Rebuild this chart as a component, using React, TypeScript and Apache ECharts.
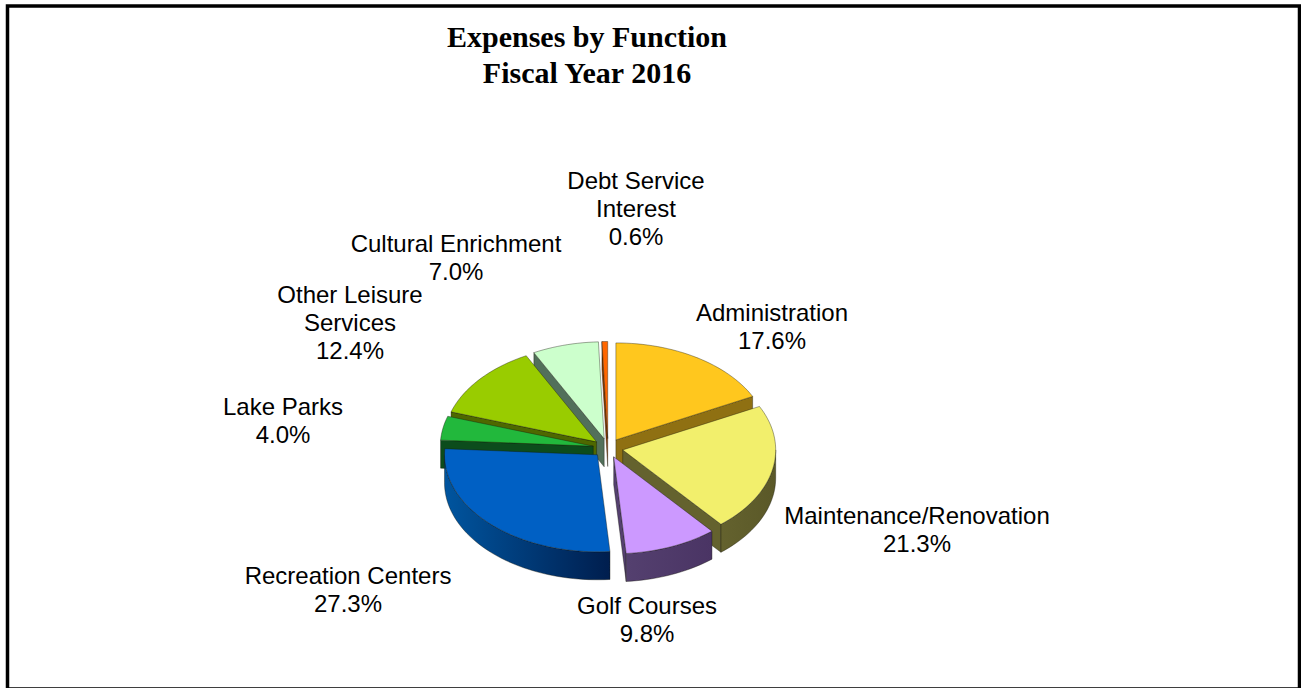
import React, { useEffect, useRef } from "react";
import * as echarts from "echarts";

const names = [
  "Administration",
  "Maintenance/Renovation",
  "Golf Courses",
  "Recreation Centers",
  "Lake Parks",
  "Other Leisure\nServices",
  "Cultural Enrichment",
  "Debt Service\nInterest",
];
const values = [17.6, 21.3, 9.8, 27.3, 4.0, 12.4, 7.0, 0.6];

// styles, same order as the values
const topColors = ["#FFC71E", "#F2EF6C", "#CC99FF", "#0060C4", "#22B83C", "#99CC00", "#CCFFCC", "#FF6600"];
const wallLight = ["#8F7012", "#64622E", "#54406F", "#00559F", "#0C4C1C", "#4E6800", "#52705A", "#8A3A00"];
const wallDark = ["#8F7012", "#5A5828", "#4A3464", "#001E4E", "#0C4C1C", "#4E6800", "#52705A", "#8A3A00"];
const labelCenters = [
  [772, 326],
  [917, 529],
  [647, 619],
  [348, 589],
  [283, 420],
  [350, 322],
  [456, 257],
  [636, 208],
];

const CX = 608;
const CY = 448;
const RX = 153;
const RY = 97;
const DEPTH = 28;
const EXPLODE = 15;
const K = RY / RX;
const DEG = Math.PI / 180;

const total = values.reduce((a, b) => a + b, 0);
const rows = (() => {
  let acc = 0;
  return values.map((v, i) => {
    const a0 = (acc / total) * 360;
    acc += v;
    const a1 = (acc / total) * 360;
    return [i, a0, a1];
  });
})();
// painter's order: back slices first
const drawRows = rows.slice().sort((p, q) => -Math.cos(((p[1] + p[2]) / 2) * DEG) + Math.cos(((q[1] + q[2]) / 2) * DEG));

function renderItem(_params: any, api: any) {
  const i = api.value(0);
  const a0 = api.value(1);
  const a1 = api.value(2);
  const mid = ((a0 + a1) / 2) * DEG;
  const ax = CX + EXPLODE * Math.sin(mid);
  const ay = CY - EXPLODE * K * Math.cos(mid);
  const rim = (deg: number) => [ax + RX * Math.sin(deg * DEG), ay - RY * Math.cos(deg * DEG)];
  const arc = (from: number, to: number) => {
    const n = Math.max(2, Math.ceil((to - from) / 2));
    const pts: number[][] = [];
    for (let k = 0; k <= n; k++) pts.push(rim(from + ((to - from) * k) / n));
    return pts;
  };
  const children: any[] = [];
  const stroke = { stroke: "rgba(20,20,10,0.55)", lineWidth: 0.7 };
  // cut faces
  const face = (deg: number) => {
    const p = rim(deg);
    children.push({
      type: "polygon",
      shape: { points: [[ax, ay], p, [p[0], p[1] + DEPTH], [ax, ay + DEPTH]] },
      style: { fill: wallLight[i], ...stroke },
    });
  };
  if (Math.sin(a0 * DEG) < 0) face(a0);
  if (Math.sin(a1 * DEG) > 0) face(a1);
  // outer wall
  const from = Math.max(a0, 90);
  const to = Math.min(a1, 270);
  if (to > from) {
    const top = arc(from, to);
    const bottom = top.map((p) => [p[0], p[1] + DEPTH]).reverse();
    children.push({
      type: "polygon",
      shape: { points: top.concat(bottom) },
      style: {
        fill: {
          type: "linear",
          x: 1,
          y: 0,
          x2: 0,
          y2: 0,
          colorStops: [
            { offset: 0, color: wallDark[i] },
            { offset: 1, color: wallLight[i] },
          ],
        },
        ...stroke,
      },
    });
  }
  // top surface
  children.push({
    type: "polygon",
    shape: { points: [[ax, ay], ...arc(a0, a1)] },
    style: { fill: topColors[i], ...stroke },
  });
  // label
  children.push({
    type: "text",
    x: labelCenters[i][0],
    y: labelCenters[i][1],
    style: {
      text: `${names[i]}\n${values[i].toFixed(1)}%`,
      fontFamily: "Liberation Sans",
      fontSize: 24,
      lineHeight: 28,
      fill: "#000",
      align: "center",
      verticalAlign: "middle",
    },
  });
  return { type: "group", children };
}

export default function App() {
  const ref = useRef<HTMLDivElement>(null);
  useEffect(() => {
    const chart = echarts.init(ref.current!, undefined, { renderer: "svg" });
    chart.setOption({
      animation: false,
      backgroundColor: "#fff",
      title: {
        text: "Expenses by Function\nFiscal Year 2016",
        left: 582,
        top: 13,
        textAlign: "center",
        textStyle: {
          fontFamily: "Liberation Serif",
          fontWeight: "bold",
          fontSize: 30,
          lineHeight: 36,
          color: "#000",
        },
      },
      graphic: [
        {
          type: "rect",
          shape: { x: 7.5, y: 6, width: 1292, height: 683 },
          style: { fill: "none", stroke: "#000", lineWidth: 3.5 },
          silent: true,
        },
      ],
      series: [
        {
          type: "custom",
          coordinateSystem: "none",
          renderItem,
          data: drawRows,
          silent: true,
        },
      ],
    });
    return () => chart.dispose();
  }, []);
  return <div ref={ref} style={{ position: "fixed", left: 0, top: 0, width: 1301, height: 688 }} />;
}
